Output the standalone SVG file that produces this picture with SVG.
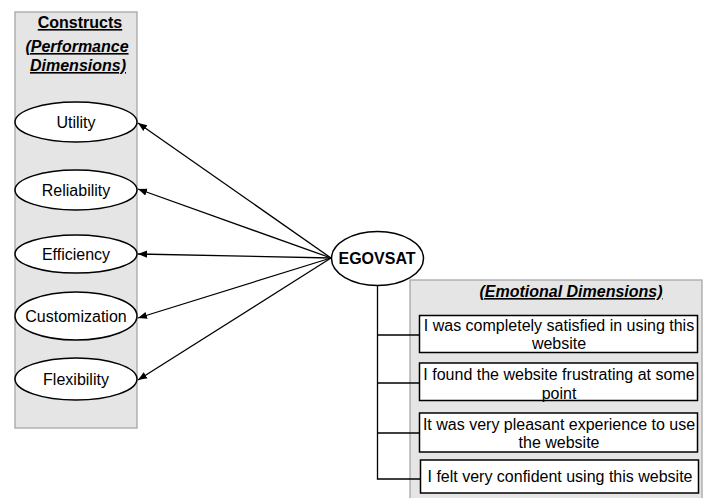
<svg xmlns="http://www.w3.org/2000/svg" width="712" height="498" viewBox="0 0 712 498">
<defs>
<style>
.panel{fill:#e5e5e5;stroke:#a0a0a0;stroke-width:1.2}
.ell{fill:#fff;stroke:#000;stroke-width:1.5}
.box{fill:#fff;stroke:#000;stroke-width:1.5}
.t{font-family:"Liberation Sans",Arial,sans-serif;font-size:16px;fill:#000;text-anchor:middle}
.h{font-weight:bold;text-decoration:underline}
.i{font-style:italic}
.c{stroke:#000;stroke-width:1.3;fill:none}
</style>
<marker id="ah" viewBox="0 0 10 10" refX="10" refY="5" markerWidth="9" markerHeight="9" markerUnits="userSpaceOnUse" orient="auto">
<path d="M0,1 L10,5 L0,9 z" fill="#000"/>
</marker>
</defs>
<rect width="712" height="498" fill="#fff"/>
<g id="constructs-panel">
<rect class="panel" x="15" y="12" width="122" height="416"/>
<text class="t h" x="80" y="28">Constructs</text>
<text class="t h i" x="77" y="52">(Performance</text>
<text class="t h i" x="78" y="71">Dimensions)</text>
</g>
<g id="emotional-panel">
<rect class="panel" x="410" y="280" width="292" height="222"/>
<text class="t h i" x="571" y="297">(Emotional Dimensions)</text>
</g>
<g id="connectors">
<line class="c" x1="331" y1="258" x2="138" y2="123" marker-end="url(#ah)"/>
<line class="c" x1="331" y1="258" x2="138" y2="189" marker-end="url(#ah)"/>
<line class="c" x1="331" y1="258" x2="138" y2="254" marker-end="url(#ah)"/>
<line class="c" x1="331" y1="258" x2="138" y2="318" marker-end="url(#ah)"/>
<line class="c" x1="331" y1="258" x2="138" y2="380" marker-end="url(#ah)"/>
<polyline class="c" points="377.5,285 377.5,479 420,479"/>
<line class="c" x1="377.5" y1="335" x2="420" y2="335"/>
<line class="c" x1="377.5" y1="383" x2="420" y2="383"/>
<line class="c" x1="377.5" y1="433" x2="420" y2="433"/>
</g>
<g id="utility"><ellipse class="ell" cx="76" cy="122" rx="61" ry="20"/><text class="t" x="76" y="127.5">Utility</text></g>
<g id="reliability"><ellipse class="ell" cx="76" cy="190" rx="61" ry="20"/><text class="t" x="76" y="195.5">Reliability</text></g>
<g id="efficiency"><ellipse class="ell" cx="76" cy="254" rx="61" ry="19"/><text class="t" x="76" y="260">Efficiency</text></g>
<g id="customization"><ellipse class="ell" cx="76" cy="316" rx="61" ry="24"/><text class="t" x="76" y="322">Customization</text></g>
<g id="flexibility"><ellipse class="ell" cx="76" cy="379" rx="61" ry="21"/><text class="t" x="76" y="385">Flexibility</text></g>
<g id="egovsat"><ellipse class="ell" cx="377.5" cy="258.5" rx="46" ry="27"/><text class="t" x="377" y="264" font-weight="bold">EGOVSAT</text></g>
<g id="item1"><rect class="box" x="419.5" y="315.5" width="278" height="37"/><text class="t" x="559" y="330.5">I was completely satisfied in using this</text><text class="t" x="559" y="349">website</text></g>
<g id="item2"><rect class="box" x="419.5" y="363" width="278" height="37.5"/><text class="t" x="559" y="380">I found the website frustrating at some</text><text class="t" x="559" y="399">point</text></g>
<g id="item3"><rect class="box" x="419.5" y="413" width="278" height="39"/><text class="t" x="559" y="429.5">It was very pleasant experience to use</text><text class="t" x="559" y="448">the website</text></g>
<g id="item4"><rect class="box" x="420.5" y="460" width="278" height="33"/><text class="t" x="560" y="482">I felt very confident using this website</text></g>
</svg>
